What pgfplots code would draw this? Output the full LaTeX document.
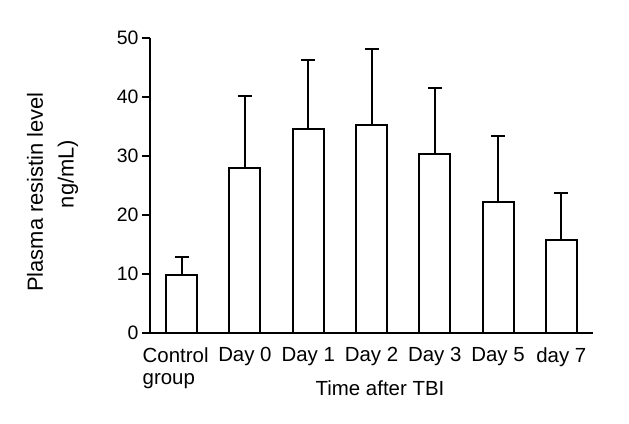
\documentclass[border=0pt]{standalone}
\usepackage{pgfplots}
\pgfplotsset{compat=1.18}
\usepackage{fontspec}
\setmainfont{Liberation Sans}
\begin{document}
\begin{tikzpicture}
\path[use as bounding box] (0,0) rectangle (629bp,424bp);
\begin{axis}[
  at={(150bp,91bp)}, anchor=south west,
  scale only axis, width=443bp, height=295bp,
  xmin=-0.5, xmax=6.5, ymin=0, ymax=50,
  axis x line=bottom, axis y line=left,
  axis line style={-, line width=2bp},
  ytick={0,10,20,30,40,50},
  xtick={1,2,3,4,5,6},
  xticklabels={Day 0,Day 1,Day 2,Day 3,Day 5,day 7},
  extra x ticks={0},
  extra x tick labels={{Control\\group}},
  extra x tick style={tick style={draw=none}, xticklabel style={xshift=-6bp, align=left}},
  xticklabel style={align=left, font=\fontsize{20.5}{22}\selectfont, anchor=north, yshift=-3bp},
  yticklabel style={font=\fontsize{19.5}{21}\selectfont},
  /pgf/number format/assume math mode=true,
  tick align=outside, major tick length=8bp,
  every tick/.style={line width=2bp, black},
  major x tick style={draw=none},
  clip=false,
]
\addplot[ybar, bar width=0.49, fill=white, draw=black, line width=2bp,
  error bars/.cd, y dir=plus, y explicit,
  error bar style={line width=2bp, black},
  error mark options={rotate=90, mark size=7bp, line width=2bp, black}]
  table[x=x, y=y, y error=e] {
x y e
0 9.8 3.1
1 28.0 12.2
2 34.6 11.7
3 35.25 12.85
4 30.4 11.2
5 22.2 11.2
6 15.8 7.9
};
\end{axis}
\node[rotate=90, font=\fontsize{22}{24}\selectfont] at (35bp,232bp) {Plasma resistin level};
\node[rotate=90, font=\fontsize{22}{24}\selectfont] at (68bp,250bp) {ng/mL)};
\node[font=\fontsize{20.5}{22}\selectfont] at (380bp,36bp) {Time after TBI};
\end{tikzpicture}
\end{document}
